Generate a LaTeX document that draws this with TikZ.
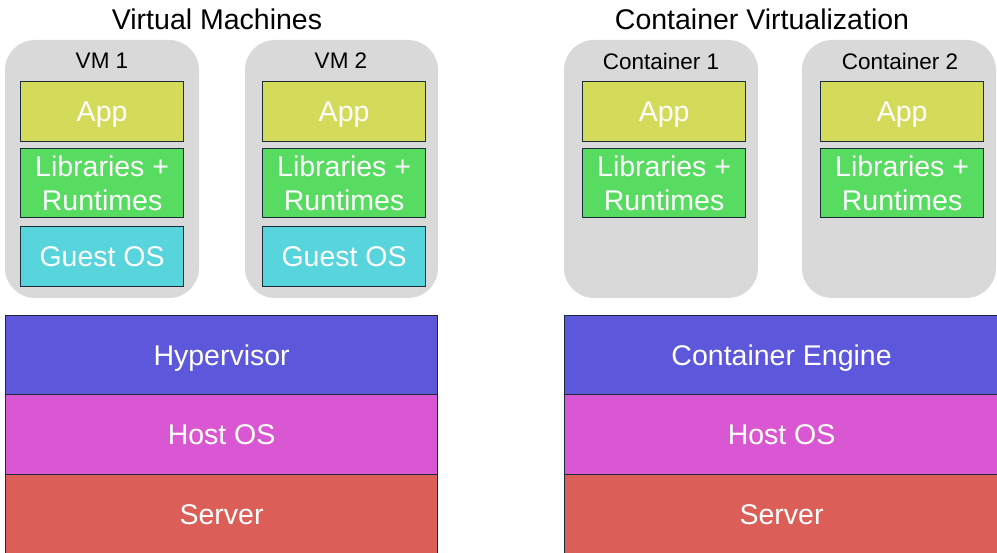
\documentclass[tikz,border=0pt]{standalone}
\usepackage{fontspec}
\setmainfont{Liberation Sans}
\definecolor{shell}{HTML}{D9D9D9}
\definecolor{edge}{HTML}{1B2B3A}
\definecolor{appc}{HTML}{D4DA59}
\definecolor{libc}{HTML}{57DB60}
\definecolor{guestc}{HTML}{58D4DC}
\definecolor{hypc}{HTML}{5D58DB}
\definecolor{hostc}{HTML}{DA57D3}
\definecolor{serverc}{HTML}{DB5F58}
\tikzset{
  shellbox/.style={fill=shell, rounded corners=30pt},
  layer/.style={draw=edge, line width=1.2pt, anchor=north west, inner sep=0pt,
    text=white, align=center, font=\fontsize{28.5}{34}\selectfont},
  oneline/.style={layer, text height=20.4pt, text depth=0pt},
  title/.style={font=\fontsize{28.5}{34}\selectfont, text=black},
  tag/.style={font=\fontsize{22.5}{27}\selectfont, text=black},
}
\begin{document}
\begin{tikzpicture}[x=1pt,y=-1pt]
\clip (0,0) rectangle (997,553);
\fill[white] (0,0) rectangle (997,553);

% section titles
\node[title] (tvm) at (217,19) {Virtual Machines};
\node[title] (tct) at (762,19) {Container Virtualization};

% virtual machine shells
\fill[shellbox] (5,40) rectangle (199,298);
\fill[shellbox] (245,40) rectangle (438,298);
\node[tag] (vm1) at (102,61) {VM 1};
\node[tag] (vm2) at (341,61) {VM 2};

\node[oneline, fill=appc, minimum width=163pt, minimum height=60pt] (app1) at (20,81) {App};
\node[layer, fill=libc, minimum width=163pt, minimum height=69pt] (lib1) at (20,148) {Libraries +\\Runtimes};
\node[oneline, fill=guestc, minimum width=163pt, minimum height=60pt] (os1) at (20,226) {Guest OS};

\node[oneline, fill=appc, minimum width=163pt, minimum height=60pt] (app2) at (262,81) {App};
\node[layer, fill=libc, minimum width=163pt, minimum height=69pt] (lib2) at (262,148) {Libraries +\\Runtimes};
\node[oneline, fill=guestc, minimum width=163pt, minimum height=60pt] (os2) at (262,226) {Guest OS};

% hypervisor stack
\node[oneline, fill=hypc, minimum width=432pt, minimum height=79pt] (hyp) at (5,315) {Hypervisor};
\node[oneline, fill=hostc, minimum width=432pt, minimum height=80pt] (hostl) at (5,394) {Host OS};
\node[oneline, fill=serverc, minimum width=432pt, minimum height=80pt] (servl) at (5,474) {Server};

% container shells
\fill[shellbox] (564,40) rectangle (758,298);
\fill[shellbox] (802,40) rectangle (996,298);
\node[tag] (ct1) at (661,61) {Container 1};
\node[tag] (ct2) at (900,61) {Container 2};

\node[oneline, fill=appc, minimum width=163pt, minimum height=60pt] (app3) at (582,81) {App};
\node[layer, fill=libc, minimum width=163pt, minimum height=69pt] (lib3) at (582,148) {Libraries +\\Runtimes};

\node[oneline, fill=appc, minimum width=163pt, minimum height=60pt] (app4) at (820,81) {App};
\node[layer, fill=libc, minimum width=163pt, minimum height=69pt] (lib4) at (820,148) {Libraries +\\Runtimes};

% container engine stack
\node[oneline, fill=hypc, minimum width=434pt, minimum height=79pt] (eng) at (564,315) {Container Engine};
\node[oneline, fill=hostc, minimum width=434pt, minimum height=80pt] (hostr) at (564,394) {Host OS};
\node[oneline, fill=serverc, minimum width=434pt, minimum height=80pt] (servr) at (564,474) {Server};
\end{tikzpicture}
\end{document}
